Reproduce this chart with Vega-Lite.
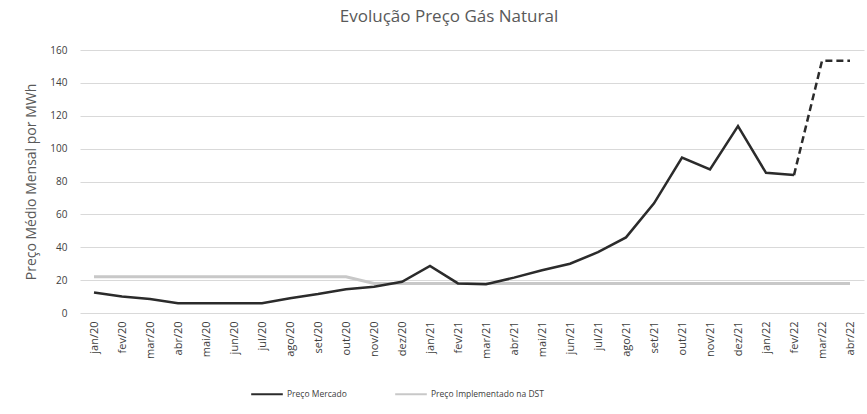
{
  "$schema": "https://vega.github.io/schema/vega-lite/v6.json",
  "autosize": {"type": "none"},
  "width": 784,
  "height": 263,
  "padding": {"left": 80, "top": 50, "right": 3, "bottom": 101},
  "background": "white",
  "title": {
    "text": "Evolução Preço Gás Natural",
    "font": "Open Sans",
    "fontSize": 17,
    "fontWeight": "normal",
    "color": "#595959",
    "anchor": "middle",
    "dx": -23,
    "offset": 19
  },
  "config": {
    "view": {"stroke": null},
    "font": "Open Sans",
    "scale": {"pointPadding": 0.5}
  },
  "data": {
    "values": [
      {"mes": "jan/20", "serie": "Preço Mercado", "valor": 12.5},
      {"mes": "fev/20", "serie": "Preço Mercado", "valor": 10},
      {"mes": "mar/20", "serie": "Preço Mercado", "valor": 8.5},
      {"mes": "abr/20", "serie": "Preço Mercado", "valor": 6},
      {"mes": "mai/20", "serie": "Preço Mercado", "valor": 6},
      {"mes": "jun/20", "serie": "Preço Mercado", "valor": 6},
      {"mes": "jul/20", "serie": "Preço Mercado", "valor": 6},
      {"mes": "ago/20", "serie": "Preço Mercado", "valor": 9},
      {"mes": "set/20", "serie": "Preço Mercado", "valor": 11.5},
      {"mes": "out/20", "serie": "Preço Mercado", "valor": 14.5},
      {"mes": "nov/20", "serie": "Preço Mercado", "valor": 16},
      {"mes": "dez/20", "serie": "Preço Mercado", "valor": 19},
      {"mes": "jan/21", "serie": "Preço Mercado", "valor": 28.6},
      {"mes": "fev/21", "serie": "Preço Mercado", "valor": 18},
      {"mes": "mar/21", "serie": "Preço Mercado", "valor": 17.5},
      {"mes": "abr/21", "serie": "Preço Mercado", "valor": 21.5},
      {"mes": "mai/21", "serie": "Preço Mercado", "valor": 26},
      {"mes": "jun/21", "serie": "Preço Mercado", "valor": 30},
      {"mes": "jul/21", "serie": "Preço Mercado", "valor": 37},
      {"mes": "ago/21", "serie": "Preço Mercado", "valor": 46},
      {"mes": "set/21", "serie": "Preço Mercado", "valor": 66.7},
      {"mes": "out/21", "serie": "Preço Mercado", "valor": 94.6},
      {"mes": "nov/21", "serie": "Preço Mercado", "valor": 87.3},
      {"mes": "dez/21", "serie": "Preço Mercado", "valor": 113.7},
      {"mes": "jan/22", "serie": "Preço Mercado", "valor": 85.3},
      {"mes": "fev/22", "serie": "Preço Mercado", "valor": 83.9},
      {"mes": "mar/22", "serie": "Preço Mercado", "valor": 153.4},
      {"mes": "abr/22", "serie": "Preço Mercado", "valor": 153.4},
      {"mes": "jan/20", "serie": "Preço Implementado na DST", "valor": 22},
      {"mes": "fev/20", "serie": "Preço Implementado na DST", "valor": 22},
      {"mes": "mar/20", "serie": "Preço Implementado na DST", "valor": 22},
      {"mes": "abr/20", "serie": "Preço Implementado na DST", "valor": 22},
      {"mes": "mai/20", "serie": "Preço Implementado na DST", "valor": 22},
      {"mes": "jun/20", "serie": "Preço Implementado na DST", "valor": 22},
      {"mes": "jul/20", "serie": "Preço Implementado na DST", "valor": 22},
      {"mes": "ago/20", "serie": "Preço Implementado na DST", "valor": 22},
      {"mes": "set/20", "serie": "Preço Implementado na DST", "valor": 22},
      {"mes": "out/20", "serie": "Preço Implementado na DST", "valor": 22},
      {"mes": "nov/20", "serie": "Preço Implementado na DST", "valor": 18},
      {"mes": "dez/20", "serie": "Preço Implementado na DST", "valor": 18},
      {"mes": "jan/21", "serie": "Preço Implementado na DST", "valor": 18},
      {"mes": "fev/21", "serie": "Preço Implementado na DST", "valor": 18},
      {"mes": "mar/21", "serie": "Preço Implementado na DST", "valor": 18},
      {"mes": "abr/21", "serie": "Preço Implementado na DST", "valor": 18},
      {"mes": "mai/21", "serie": "Preço Implementado na DST", "valor": 18},
      {"mes": "jun/21", "serie": "Preço Implementado na DST", "valor": 18},
      {"mes": "jul/21", "serie": "Preço Implementado na DST", "valor": 18},
      {"mes": "ago/21", "serie": "Preço Implementado na DST", "valor": 18},
      {"mes": "set/21", "serie": "Preço Implementado na DST", "valor": 18},
      {"mes": "out/21", "serie": "Preço Implementado na DST", "valor": 18},
      {"mes": "nov/21", "serie": "Preço Implementado na DST", "valor": 18},
      {"mes": "dez/21", "serie": "Preço Implementado na DST", "valor": 18},
      {"mes": "jan/22", "serie": "Preço Implementado na DST", "valor": 18},
      {"mes": "fev/22", "serie": "Preço Implementado na DST", "valor": 18},
      {"mes": "mar/22", "serie": "Preço Implementado na DST", "valor": 18},
      {"mes": "abr/22", "serie": "Preço Implementado na DST", "valor": 18}
    ]
  },
  "encoding": {
    "x": {
      "field": "mes",
      "type": "ordinal",
      "sort": null,
      "axis": {
        "title": null,
        "labelAngle": 270,
        "labelFontSize": 11,
        "labelColor": "#404040",
        "labelPadding": 8,
        "domain": false,
        "ticks": false,
        "grid": false
      }
    },
    "y": {
      "field": "valor",
      "type": "quantitative",
      "scale": {"domain": [0, 160], "nice": false},
      "axis": {
        "values": [0, 20, 40, 60, 80, 100, 120, 140, 160],
        "title": "Preço Médio Mensal por MWh",
        "titleFont": "Open Sans",
        "titleFontSize": 14,
        "titleFontWeight": "normal",
        "titleColor": "#595959",
        "titlePadding": 11,
        "labelFontSize": 10,
        "labelColor": "#404040",
        "labelPadding": 13,
        "domain": false,
        "ticks": false,
        "gridColor": "#d9d9d9",
        "gridWidth": 1
      }
    },
    "color": {
      "field": "serie",
      "type": "nominal",
      "scale": {
        "domain": ["Preço Mercado", "Preço Implementado na DST"],
        "range": ["#2b2b2b", "#c8c8c8"]
      },
      "legend": {
        "title": null,
        "orient": "none",
        "direction": "horizontal",
        "legendX": 170,
        "legendY": 327,
        "symbolType": "stroke",
        "symbolSize": 1000,
        "symbolStrokeWidth": 2,
        "labelFontSize": 8.5,
        "labelColor": "#404040",
        "labelOffset": 3,
        "columnPadding": 44
      }
    }
  },
  "layer": [
    {
      "transform": [{"filter": {"field": "serie", "equal": "Preço Implementado na DST"}}],
      "mark": {"type": "line", "strokeWidth": 3}
    },
    {
      "transform": [
        {"filter": {"field": "serie", "equal": "Preço Mercado"}},
        {"filter": {"not": {"field": "mes", "oneOf": ["mar/22", "abr/22"]}}}
      ],
      "mark": {"type": "line", "strokeWidth": 2.5}
    },
    {
      "transform": [
        {"filter": {"field": "serie", "equal": "Preço Mercado"}},
        {"filter": {"field": "mes", "oneOf": ["fev/22", "mar/22", "abr/22"]}}
      ],
      "mark": {"type": "line", "strokeWidth": 2.5, "strokeDash": [7, 4]}
    }
  ]
}
